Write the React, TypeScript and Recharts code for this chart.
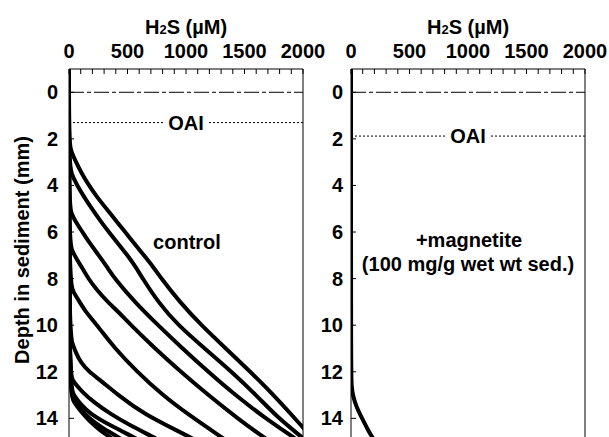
import { Line, LineChart, ReferenceLine, XAxis, YAxis } from 'recharts';

type Pt = { d: number; c: number };

const depthTicks = [0, 2, 4, 6, 8, 10, 12, 14];
const h2sTicks = [0, 100, 200, 300, 400, 500, 600, 700, 800, 900, 1000, 1100, 1200, 1300, 1400, 1500, 1600, 1700, 1800, 1900, 2000];
const h2sDomain = [0, 2000];
const depthDomain = [-1, 14.93];

const oaiControl = 1.3;
const oaiMagnetite = 1.88;

// H2S (µM) against depth (mm), one array per profile
const control1: Pt[] = [
  { d: -1, c: 0 }, { d: 2.1, c: 0 }, { d: 2.5, c: 15 }, { d: 3.0, c: 60 }, { d: 3.5, c: 110 }, { d: 4.0, c: 170 },
  { d: 4.5, c: 240 }, { d: 5.0, c: 320 }, { d: 5.5, c: 400 }, { d: 6.0, c: 480 }, { d: 6.5, c: 560 }, { d: 7.0, c: 640 },
  { d: 7.5, c: 720 }, { d: 8.0, c: 790 }, { d: 9.0, c: 945 }, { d: 10.0, c: 1130 }, { d: 11.0, c: 1340 }, { d: 12.0, c: 1550 },
  { d: 13.0, c: 1750 }, { d: 14.0, c: 1930 }, { d: 14.4, c: 2000 }, { d: 15.0, c: 2110 },
];
const control2: Pt[] = [
  { d: -1, c: 0 }, { d: 3.0, c: 0 }, { d: 3.5, c: 20 }, { d: 4.0, c: 70 }, { d: 4.5, c: 130 }, { d: 5.0, c: 195 },
  { d: 5.5, c: 265 }, { d: 6.0, c: 340 }, { d: 6.5, c: 420 }, { d: 7.0, c: 500 }, { d: 7.5, c: 570 }, { d: 8.0, c: 630 },
  { d: 9.0, c: 760 }, { d: 10.0, c: 930 }, { d: 11.0, c: 1160 }, { d: 12.0, c: 1390 }, { d: 13.0, c: 1600 }, { d: 14.0, c: 1790 },
  { d: 14.8, c: 1990 }, { d: 15.0, c: 2030 },
];
const control3: Pt[] = [
  { d: -1, c: 0 }, { d: 4.8, c: 0 }, { d: 5.2, c: 20 }, { d: 5.5, c: 50 }, { d: 6.0, c: 115 }, { d: 6.5, c: 180 },
  { d: 7.0, c: 255 }, { d: 7.5, c: 325 }, { d: 8.0, c: 390 }, { d: 9.0, c: 560 }, { d: 10.0, c: 760 }, { d: 11.0, c: 970 },
  { d: 12.0, c: 1190 }, { d: 13.0, c: 1420 }, { d: 14.0, c: 1680 }, { d: 14.8, c: 1915 }, { d: 15.0, c: 1970 },
];
const control4: Pt[] = [
  { d: -1, c: 0 }, { d: 6.4, c: 0 }, { d: 6.8, c: 25 }, { d: 7.2, c: 70 }, { d: 7.6, c: 120 }, { d: 8.0, c: 165 },
  { d: 8.5, c: 240 }, { d: 9.0, c: 330 }, { d: 9.5, c: 436 }, { d: 10.0, c: 530 }, { d: 11.0, c: 735 }, { d: 12.0, c: 955 },
  { d: 13.0, c: 1190 }, { d: 14.0, c: 1440 }, { d: 14.8, c: 1660 }, { d: 15.0, c: 1720 },
];
const control5: Pt[] = [
  { d: -1, c: 0 }, { d: 8.2, c: 0 }, { d: 8.6, c: 40 }, { d: 9.0, c: 90 }, { d: 9.4, c: 140 }, { d: 9.7, c: 190 },
  { d: 10.2, c: 270 }, { d: 10.9, c: 376 }, { d: 12.0, c: 580 }, { d: 13.0, c: 800 }, { d: 13.8, c: 1009 }, { d: 14.8, c: 1300 },
  { d: 15.0, c: 1360 },
];
const control6: Pt[] = [
  { d: -1, c: 0 }, { d: 10.3, c: 0 }, { d: 10.8, c: 30 }, { d: 11.2, c: 60 }, { d: 11.6, c: 100 }, { d: 12.0, c: 170 },
  { d: 12.35, c: 265 }, { d: 13.0, c: 420 }, { d: 13.8, c: 632 }, { d: 14.8, c: 1034 }, { d: 15.0, c: 1100 },
];
const control7: Pt[] = [
  { d: -1, c: 0 }, { d: 12.0, c: 0 }, { d: 12.4, c: 30 }, { d: 12.9, c: 120 }, { d: 13.3, c: 210 }, { d: 13.8, c: 350 },
  { d: 14.3, c: 520 }, { d: 14.8, c: 720 }, { d: 15.0, c: 790 },
];
const control8: Pt[] = [
  { d: -1, c: 0 }, { d: 12.6, c: 0 }, { d: 13.0, c: 40 }, { d: 13.4, c: 100 }, { d: 13.8, c: 180 }, { d: 14.3, c: 350 },
  { d: 14.8, c: 550 }, { d: 15.0, c: 620 },
];
const control9: Pt[] = [
  { d: -1, c: 0 }, { d: 12.8, c: 0 }, { d: 13.2, c: 40 }, { d: 13.6, c: 100 }, { d: 14.0, c: 170 }, { d: 14.4, c: 280 },
  { d: 14.8, c: 420 }, { d: 15.0, c: 480 },
];
const control10: Pt[] = [
  { d: -1, c: 0 }, { d: 12.9, c: 0 }, { d: 13.3, c: 40 }, { d: 13.7, c: 100 }, { d: 14.1, c: 170 }, { d: 14.5, c: 260 },
  { d: 14.8, c: 350 }, { d: 15.0, c: 400 },
];
const magnetite1: Pt[] = [
  { d: -1, c: 0 }, { d: 12.2, c: 0 }, { d: 12.6, c: 5 }, { d: 13.0, c: 15 }, { d: 13.5, c: 45 }, { d: 14.0, c: 95 },
  { d: 14.5, c: 145 }, { d: 14.8, c: 180 }, { d: 15.0, c: 210 },
];

const controlProfiles = [control1, control2, control3, control4, control5, control6, control7, control8, control9, control10];
const magnetiteProfiles = [magnetite1];

const FONT = "Arial, 'Liberation Sans', Helvetica, sans-serif";
const FS = 20;

// top axis tick: label above, small tick pointing down into the plot
function H2sTick({ x, y, payload, gap }: any) {
  const v = payload.value;
  return (
    <g>
      <line x1={x} y1={y + gap} x2={x} y2={y + gap + 5} stroke="#000" />
      {v % 500 === 0 && (
        <text x={x} y={y} textAnchor="middle" fontSize={FS} fontWeight={700} fontFamily={FONT} fill="#000">{v}</text>
      )}
    </g>
  );
}

// left axis tick: label to the left, tick pointing right into the plot
function DepthTick({ x, y, payload, gap }: any) {
  return (
    <g>
      <line x1={x + gap} y1={y} x2={x + gap + 5} y2={y} stroke="#000" />
      <text x={x} y={y} dy={7} textAnchor="end" fontSize={FS} fontWeight={700} fontFamily={FONT} fill="#000">{payload.value}</text>
    </g>
  );
}

function OaiTag(props: any) {
  const vb = props.viewBox || {};
  const cx = vb.x + vb.width / 2;
  const cy = vb.y;
  return (
    <g>
      <rect x={cx - 23} y={cy - 9} width={46} height={18} fill="#fff" />
      <text x={cx} y={cy + 7} textAnchor="middle" fontSize={FS} fontWeight={700} fontFamily={FONT} fill="#000">OAI</text>
    </g>
  );
}

function Panel({ profiles, oai, left, width, yWidth, marginRight, yGap }: {
  profiles: Pt[][]; oai: number; left: number; width: number; yWidth: number; marginRight: number; yGap: number;
}) {
  return (
    <div style={{ position: 'absolute', left, top: 0 }}>
      <LineChart layout="vertical" width={width} height={440} margin={{ top: 0, right: marginRight, bottom: 0, left: 0 }}>
        <XAxis type="number" orientation="top" domain={h2sDomain} ticks={h2sTicks} interval={0} allowDataOverflow
          height={69} tickSize={0} tickMargin={11} tickLine={false} stroke="#000"
          tick={(p: any) => <H2sTick {...p} gap={11} />} />
        <YAxis type="number" dataKey="d" domain={depthDomain} ticks={depthTicks} interval={0} allowDataOverflow
          width={yWidth} tickSize={0} tickMargin={yGap} tickLine={false} stroke="#000"
          tick={(p: any) => <DepthTick {...p} gap={yGap} />} />
        <ReferenceLine x={2000} stroke="#000" />
        <ReferenceLine y={0} stroke="#000" strokeDasharray="15 3 4 3" />
        <ReferenceLine y={oai} stroke="#000" strokeDasharray="2 2" label={(p: any) => <OaiTag {...p} />} />
        {profiles.map((p, i) => (
          <Line key={i} data={p} dataKey="c" type="basis" stroke="#000" strokeWidth={4} dot={false}
            strokeLinejoin="round" isAnimationActive={false} />
        ))}
      </LineChart>
    </div>
  );
}

export default function App() {
  return (
    <div style={{ position: 'fixed', left: 0, top: 0, width: 609, height: 437, overflow: 'hidden', background: '#fff', fontFamily: FONT }}>
      <Panel profiles={controlProfiles} oai={oaiControl} left={0} width={330} yWidth={69} marginRight={27} yGap={11} />
      <Panel profiles={magnetiteProfiles} oai={oaiMagnetite} left={300} width={309} yWidth={51} marginRight={24} yGap={8} />
      <svg width={609} height={437} style={{ position: 'absolute', left: 0, top: 0, pointerEvents: 'none' }}
        fontFamily={FONT} fontWeight={700} fontSize={FS} fill="#000">
        <text x={186} y={33.5} textAnchor="middle">H<tspan fontSize={13}>2</tspan>S (µM)</text>
        <text x={468} y={33.5} textAnchor="middle">H<tspan fontSize={13}>2</tspan>S (µM)</text>
        <text x={187} y={249} textAnchor="middle">control</text>
        <text x={469} y={247} textAnchor="middle">+magnetite</text>
        <text x={468} y={271} textAnchor="middle">(100 mg/g wet wt sed.)</text>
        <text x={28.6} y={250} textAnchor="middle" transform="rotate(-90 28.6 250)">Depth in sediment (mm)</text>
      </svg>
    </div>
  );
}
